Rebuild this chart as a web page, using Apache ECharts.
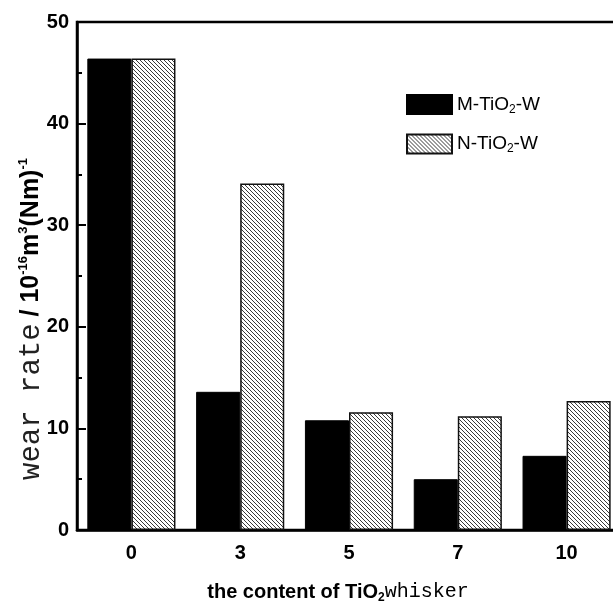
<!DOCTYPE html>
<html lang="en" style="height: 100%">
<head>
  <meta charset="utf-8">
  <title>wear rate</title>
  <script src="https://cdn.jsdelivr.net/npm/echarts@6/dist/echarts.min.js"></script>
</head>
<body style="height: 100%; margin: 0; background: #fff">
  <div id="container" style="width: 613px; height: 602px"></div>
  <script type="text/javascript">
    // TiO2 whisker content
    var categories = ['0', '3', '5', '7', '10'];
    var seriesNames = ['M-TiO2-W', 'N-TiO2-W'];
    var mValues = [46.4, 13.6, 10.8, 5.0, 7.3];
    var nValues = [46.4, 34.1, 11.6, 11.2, 12.7];

    // hatch fill "\\\\"
    function hatch() {
      var c = document.createElement('canvas');
      c.width = 4;
      c.height = 4;
      var g = c.getContext('2d');
      g.fillStyle = '#fff';
      g.fillRect(0, 0, 4, 4);
      g.strokeStyle = '#3a3a3a';
      g.lineWidth = 1;
      g.beginPath();
      g.moveTo(-1, -1); g.lineTo(5, 5);
      g.moveTo(-1, 3); g.lineTo(1, 5);
      g.moveTo(3, -1); g.lineTo(5, 1);
      g.stroke();
      return c;
    }
    var hatchFill = { image: hatch(), repeat: 'repeat' };

    var sans = 'Liberation Sans';
    var mono = 'Liberation Mono';

    var dom = document.getElementById('container');
    var myChart = echarts.init(dom, null, { renderer: 'canvas' });

    var option = {
      animation: false,
      backgroundColor: '#fff',
      grid: {
        left: 77,
        top: 22,
        width: 544,
        height: 508,
        outerBoundsMode: 'none',
        containLabel: false,
        show: true,
        borderColor: '#000',
        borderWidth: 2.5,
        backgroundColor: 'transparent'
      },
      legend: {
        orient: 'vertical',
        left: 401,
        top: 89,
        icon: 'rect',
        itemWidth: 45,
        itemHeight: 19,
        itemGap: 18,
        formatter: function (name) {
          var p = name.split('2');
          return '{a|' + p[0] + '}{s|2}{a|' + p[1] + '}';
        },
        textStyle: {
          color: '#000',
          rich: {
            a: { fontFamily: sans, fontSize: 19, color: '#000', lineHeight: 22 },
            s: { fontFamily: sans, fontSize: 12, color: '#000', verticalAlign: 'bottom', lineHeight: 12 }
          }
        }
      },
      xAxis: {
        type: 'category',
        data: categories,
        boundaryGap: true,
        axisLine: { lineStyle: { color: '#000', width: 2.5 } },
        axisTick: { show: false },
        axisLabel: {
          color: '#000',
          fontFamily: sans,
          fontWeight: 'bold',
          fontSize: 20,
          margin: 13
        },
        name: '{a|the content of TiO}{s|2}{b|whisker}',
        nameLocation: 'middle',
        nameGap: 50,
        nameTextStyle: {
          padding: [0, 22, 0, 0],
          rich: {
            a: { fontFamily: sans, fontWeight: 'bold', fontSize: 20, color: '#000', lineHeight: 24 },
            s: { fontFamily: sans, fontWeight: 'bold', fontSize: 12, color: '#000', verticalAlign: 'bottom', lineHeight: 12 },
            b: { fontFamily: mono, fontSize: 20, color: '#000', lineHeight: 24 }
          }
        }
      },
      yAxis: {
        type: 'value',
        min: 0,
        max: 50,
        interval: 10,
        splitLine: { show: false },
        axisLine: { show: true, lineStyle: { color: '#000', width: 2.5 } },
        axisTick: { show: true, inside: true, length: 9, lineStyle: { color: '#000', width: 2 } },
        minorTick: { show: true, splitNumber: 2, length: 5, lineStyle: { color: '#000', width: 2 } },
        axisLabel: {
          color: '#000',
          fontFamily: sans,
          fontWeight: 'bold',
          fontSize: 20,
          margin: 8
        },
        name: '{m|wear rate}{a| / 10}{s|-16}{a|m}{s|3}{a|(Nm)}{s|-1}',
        nameLocation: 'middle',
        nameRotate: 90,
        nameGap: 32,
        nameMoveOverlap: false,
        nameTextStyle: {
          padding: [0, 86, 0, 0],
          rich: {
            m: { fontFamily: mono, fontSize: 29, color: '#222', lineHeight: 28 },
            a: { fontFamily: sans, fontWeight: 'bold', fontSize: 25, color: '#000', lineHeight: 28 },
            s: { fontFamily: sans, fontWeight: 'bold', fontSize: 13, color: '#000', verticalAlign: 'top', lineHeight: 12 }
          }
        }
      },
      series: [
        {
          name: seriesNames[0],
          type: 'bar',
          data: mValues,
          barGap: '0%',
          barCategoryGap: '19%',
          itemStyle: { color: '#000', borderColor: '#000', borderWidth: 1 }
        },
        {
          name: seriesNames[1],
          type: 'bar',
          data: nValues,
          barGap: '0%',
          barCategoryGap: '19%',
          itemStyle: { color: hatchFill, borderColor: '#111', borderWidth: 1.5 }
        }
      ]
    };

    myChart.setOption(option);
    window.addEventListener('resize', myChart.resize);
  </script>
</body>
</html>
